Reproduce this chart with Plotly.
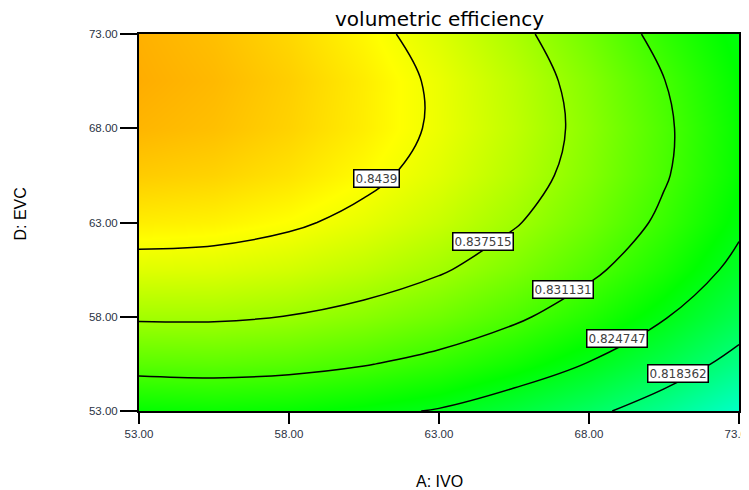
import plotly.graph_objects as go

# Factor levels (grid)
ivo_vals = [53, 55.5, 58, 60.5, 63, 65.5, 68, 70.5, 73]
evc_vals = [53, 55.5, 58, 60.5, 63, 65.5, 68, 70.5, 73]

# volumetric efficiency, rows = EVC (ascending), columns = IVO (ascending)
ve_53_0 = [0.82650, 0.82688, 0.82661, 0.82570, 0.82445, 0.82215, 0.81941, 0.81603, 0.81200]
ve_55_5 = [0.83273, 0.83293, 0.83248, 0.83139, 0.82976, 0.82748, 0.82456, 0.82099, 0.81678]
ve_58_0 = [0.83804, 0.83805, 0.83742, 0.83615, 0.83434, 0.83188, 0.82877, 0.82503, 0.82064]
ve_60_5 = [0.84241, 0.84224, 0.84143, 0.83998, 0.83798, 0.83534, 0.83206, 0.82813, 0.82356]
ve_63_0 = [0.84585, 0.84550, 0.84451, 0.84288, 0.84070, 0.83788, 0.83441, 0.83030, 0.82555]
ve_65_5 = [0.84836, 0.84783, 0.84666, 0.84484, 0.84248, 0.83948, 0.83583, 0.83154, 0.82661]
ve_68_0 = [0.84994, 0.84923, 0.84787, 0.84588, 0.84334, 0.84015, 0.83632, 0.83185, 0.82674]
ve_70_5 = [0.85058, 0.84969, 0.84816, 0.84598, 0.84326, 0.83989, 0.83588, 0.83123, 0.82630]
ve_73_0 = [0.85030, 0.84923, 0.84751, 0.84515, 0.84225, 0.83870, 0.83451, 0.82968, 0.82540]

contour_levels = ["0.818362", "0.824747", "0.831131", "0.837515", "0.8439"]
# label positions (IVO, EVC) on each contour line
label_ivo = [70.97, 68.93, 67.13, 64.47, 60.9]
label_evc = [54.97, 56.83, 59.43, 61.99, 65.36]

tick_vals = [53, 58, 63, 68, 73]
tick_text = ["53.00", "58.00", "63.00", "68.00", "73.00"]

z = [ve_53_0, ve_55_5, ve_58_0, ve_60_5, ve_63_0, ve_65_5, ve_68_0, ve_70_5, ve_73_0]

lv = [float(v) for v in contour_levels]
step = (lv[-1] - lv[0]) / (len(lv) - 1)

fig = go.Figure()
fig.add_trace(go.Contour(
    x=ivo_vals, y=evc_vals, z=z,
    zmin=0.808, zmax=0.863,
    colorscale=[[0.0, "#00FFFF"], [1/3, "#00FF00"], [2/3, "#FFFF00"], [1.0, "#FF0000"]],
    showscale=False,
    contours=dict(start=lv[0], end=lv[-1] + step * 0.01, size=step,
                  coloring="heatmap", showlabels=False),
    line=dict(color="black", width=1.5, smoothing=1.0),
    hoverinfo="skip",
))

annotations = []
for txt, xi, yi in zip(contour_levels, label_ivo, label_evc):
    annotations.append(dict(
        x=xi, y=yi, xref="x", yref="y", text=txt, showarrow=False,
        font=dict(family="DejaVu Sans", size=12, color="#404040"),
        bgcolor="white", bordercolor="black", borderwidth=1.5, borderpad=1,
    ))

annotations.append(dict(
    x=0.5, y=1, xref="paper", yref="paper", xanchor="center", yanchor="bottom",
    yshift=1, text="volumetric efficiency", showarrow=False,
    font=dict(family="DejaVu Sans", size=20, color="black"),
))
annotations.append(dict(
    x=0.5, y=0, xref="paper", yref="paper", xanchor="center", yanchor="middle",
    yshift=-70, text="A: IVO", showarrow=False,
    font=dict(family="Liberation Sans, Arial", size=16, color="black"),
))
annotations.append(dict(
    x=0, y=0.5, xref="paper", yref="paper", xanchor="center", yanchor="middle",
    xshift=-119, yshift=8, text="D: EVC", textangle=-90, showarrow=False,
    font=dict(family="Liberation Sans, Arial", size=16, color="black"),
))

axis_common = dict(
    tickvals=tick_vals, ticktext=tick_text,
    showgrid=False, zeroline=False,
    showline=True, linecolor="black", linewidth=2, mirror=True,
    ticks="outside", tickcolor="black", tickwidth=2,
    ticklabeloverflow="allow", automargin=False,
    tickfont=dict(family="Liberation Sans, Arial", size=11.5, color="#2b3344"),
)

# page body has an 8px margin, so the figure is 8px smaller on each axis
fig.update_layout(
    width=741, height=482,
    margin=dict(l=131, r=10, t=26, b=79),
    paper_bgcolor="white", plot_bgcolor="white",
    xaxis=dict(range=[53, 73], ticklen=11, **axis_common),
    yaxis=dict(range=[53, 73], ticklen=17, **axis_common),
    annotations=annotations,
    showlegend=False,
)

fig.write_html("out.html")
